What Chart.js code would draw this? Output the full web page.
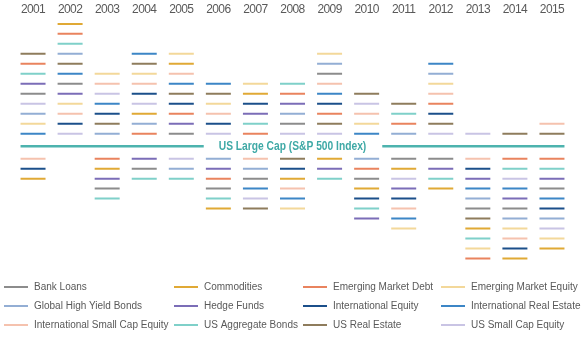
<!DOCTYPE html>
<html>
<head>
<meta charset="utf-8">
<script src="https://cdn.jsdelivr.net/npm/chart.js@4/dist/chart.umd.min.js"></script>
<style>
  html, body { margin: 0; padding: 0; background: #fff; }
  #wrap { width: 585px; height: 342px; position: relative; }
</style>
</head>
<body>
<div id="wrap"><canvas id="chart"></canvas></div>
<script>
const years = ['2001', '2002', '2003', '2004', '2005', '2006', '2007', '2008', '2009', '2010', '2011', '2012', '2013', '2014', '2015'];

// asset classes (legend order) and their colours
const assetKeys = ['BL', 'CO', 'EMD', 'EME', 'GHY', 'HF', 'IE', 'IRE', 'ISC', 'AGG', 'USRE', 'USSC'];
const assetNames = ['Bank Loans', 'Commodities', 'Emerging Market Debt', 'Emerging Market Equity',
  'Global High Yield Bonds', 'Hedge Funds', 'International Equity', 'International Real Estate',
  'International Small Cap Equity', 'US Aggregate Bonds', 'US Real Estate', 'US Small Cap Equity'];
const assetColors = ['#8c8c8c', '#e0a935', '#e9835e', '#f3d89a', '#93aed4', '#7b6db7',
  '#1b4f8a', '#3c86c6', '#f5c2ae', '#7fd0c9', '#8e7c5c', '#c9c4e4'];

// beat the S&P 500 that year, listed top to bottom
const above = [
  ['USRE', 'EMD', 'AGG', 'HF', 'BL', 'USSC', 'GHY', 'EME', 'IRE'],
  ['CO', 'EMD', 'AGG', 'GHY', 'USRE', 'IRE', 'BL', 'HF', 'EME', 'ISC', 'IE', 'USSC'],
  ['EME', 'ISC', 'USSC', 'IRE', 'IE', 'USRE', 'GHY'],
  ['IRE', 'USRE', 'EME', 'ISC', 'IE', 'USSC', 'CO', 'GHY', 'EMD'],
  ['EME', 'CO', 'ISC', 'IRE', 'USRE', 'IE', 'EMD', 'HF', 'BL'],
  ['IRE', 'USRE', 'EME', 'ISC', 'IE', 'USSC'],
  ['EME', 'CO', 'IE', 'HF', 'AGG', 'EMD'],
  ['AGG', 'EMD', 'HF', 'GHY', 'BL', 'USSC'],
  ['EME', 'GHY', 'BL', 'ISC', 'IRE', 'IE', 'EMD', 'USRE', 'USSC'],
  ['USRE', 'USSC', 'ISC', 'EME', 'IRE'],
  ['USRE', 'AGG', 'EMD', 'GHY'],
  ['IRE', 'GHY', 'EME', 'ISC', 'EMD', 'IE', 'USRE', 'USSC'],
  ['USSC'],
  ['USRE'],
  ['ISC', 'USRE']
];

// trailed the S&P 500 that year, listed top to bottom
const below = [
  ['ISC', 'IE', 'CO'],
  [],
  ['EMD', 'CO', 'HF', 'BL', 'AGG'],
  ['HF', 'BL', 'AGG'],
  ['USSC', 'GHY', 'AGG'],
  ['GHY', 'HF', 'EMD', 'BL', 'AGG', 'CO'],
  ['ISC', 'GHY', 'BL', 'IRE', 'USSC', 'USRE'],
  ['USRE', 'IE', 'CO', 'ISC', 'IRE', 'EME'],
  ['CO', 'HF', 'AGG'],
  ['GHY', 'EMD', 'BL', 'CO', 'IE', 'AGG', 'HF'],
  ['BL', 'CO', 'USSC', 'HF', 'IE', 'ISC', 'IRE', 'EME'],
  ['BL', 'HF', 'AGG', 'CO'],
  ['ISC', 'IE', 'HF', 'IRE', 'GHY', 'BL', 'USRE', 'CO', 'AGG', 'EME', 'EMD'],
  ['EMD', 'AGG', 'USSC', 'IRE', 'HF', 'BL', 'GHY', 'EME', 'ISC', 'IE', 'CO'],
  ['EMD', 'AGG', 'HF', 'BL', 'IRE', 'IE', 'GHY', 'USSC', 'EME', 'CO']
];

const benchLabel = 'US Large Cap (S&P 500 Index)';
const sans = "'Liberation Sans', Arial, sans-serif";

// slot position: +k = k-th dash above the line, -k = k-th below
function slotOf(key, yi) {
  const a = above[yi].indexOf(key);
  if (a >= 0) return above[yi].length - a + 0.25;
  const b = below[yi].indexOf(key);
  if (b >= 0) return -(b + 1.25);
  return null;
}

const datasets = assetKeys.map((key, i) => ({
  label: assetNames[i],
  data: years.map((y, yi) => slotOf(key, yi)),
  showLine: false,
  pointStyle: 'line',
  pointRadius: 12.5,
  pointHoverRadius: 12.5,
  pointBorderWidth: 2,
  pointHoverBorderWidth: 2,
  borderColor: assetColors[i],
  backgroundColor: assetColors[i]
}));

// squeeze the year labels a bit, the original face is a condensed one
const tightText = {
  id: 'tightText',
  beforeDraw(chart) { chart.ctx.letterSpacing = '-0.6px'; },
  afterDraw(chart) { chart.ctx.letterSpacing = '0px'; }
};

const benchLine = {
  id: 'benchLine',
  beforeDatasetsDraw(chart) {
    const { ctx, scales } = chart;
    const y = scales.y.getPixelForValue(0);
    const x0 = scales.x.getPixelForValue(0) - 12.5;
    const x1 = scales.x.getPixelForValue(years.length - 1) + 12.5;
    const cx = (x0 + x1) / 2;
    const sx = 0.82;
    ctx.save();
    ctx.letterSpacing = '0px';
    ctx.font = 'bold 12.5px ' + sans;
    const w = ctx.measureText(benchLabel).width * sx;
    ctx.strokeStyle = '#4db3ae';
    ctx.lineWidth = 2.5;
    ctx.beginPath();
    ctx.moveTo(x0, y); ctx.lineTo(cx - w / 2 - 15, y);
    ctx.moveTo(cx + w / 2 + 16, y); ctx.lineTo(x1, y);
    ctx.stroke();
    ctx.translate(cx, y + 0.5);
    ctx.scale(sx, 1);
    ctx.fillStyle = '#3fa9a6';
    ctx.textAlign = 'center';
    ctx.textBaseline = 'middle';
    ctx.fillText(benchLabel, 0, 0);
    ctx.restore();
  }
};

const gridLegend = {
  id: 'gridLegend',
  afterDraw(chart) {
    const ctx = chart.ctx;
    const colX = [4, 174, 303, 441];
    const rowY = [287, 306, 325];
    ctx.save();
    ctx.letterSpacing = '0px';
    ctx.font = '10px ' + sans;
    ctx.textBaseline = 'middle';
    chart.data.datasets.forEach((ds, i) => {
      const x = colX[i % 4], y = rowY[Math.floor(i / 4)];
      ctx.strokeStyle = ds.borderColor;
      ctx.lineWidth = 2;
      ctx.beginPath();
      ctx.moveTo(x, y); ctx.lineTo(x + 24, y);
      ctx.stroke();
      ctx.fillStyle = '#595959';
      ctx.fillText(ds.label, x + 30, y + 0.5);
    });
    ctx.restore();
  }
};

new Chart(document.getElementById('chart'), {
  type: 'line',
  data: { labels: years, datasets },
  options: {
    responsive: true,
    maintainAspectRatio: false,
    animation: false,
    layout: { padding: { top: 2, bottom: 76, left: 0, right: 0 } },
    plugins: { legend: { display: false }, tooltip: { enabled: false } },
    scales: {
      x: {
        position: 'top',
        offset: true,
        grid: { display: false, drawTicks: false },
        border: { display: false },
        ticks: { color: '#595959', padding: 0, font: { family: sans, size: 12 } }
      },
      y: { display: false, min: -12, max: 13 }
    }
  },
  plugins: [tightText, benchLine, gridLegend]
});
</script>
</body>
</html>
